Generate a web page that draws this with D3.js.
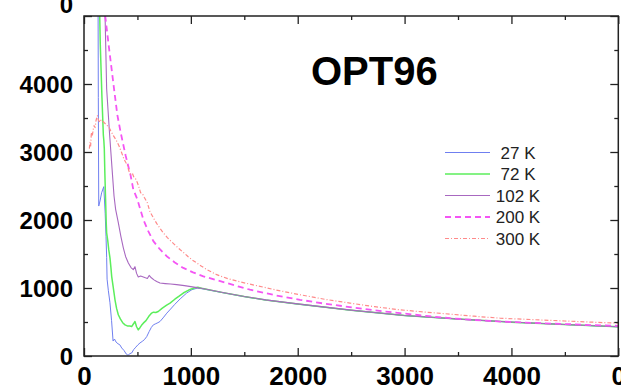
<!DOCTYPE html>
<html>
<head>
<meta charset="utf-8">
<script src="https://cdn.jsdelivr.net/npm/d3@7"></script>
<style>
  body { margin: 0; background: #fff; }
  text { font-family: "Liberation Sans", Arial, Helvetica, sans-serif; }
</style>
</head>
<body>
<svg></svg>
<script>
const [width, height] = [621, 390];
const margin = { left: 84, top: 16, right: 2.7, bottom: 34 };

// tick values and labels (the last "0"s belong to the neighbouring panels)
const xTicks = [0, 1000, 2000, 3000, 4000, 5000];
const xTickLabels = ["0", "1000", "2000", "3000", "4000", "0"];
const yTicks = [0, 1000, 2000, 3000, 4000, 5000];
const yTickLabels = ["0", "1000", "2000", "3000", "4000", "0"];
const minorTicks = [500, 1500, 2500, 3500, 4500];

const seriesNames = ["27 K", "72 K", "102 K", "200 K", "300 K"];
const seriesColors = ["#6f7ff0", "#5bee5b", "#a868c0", "#f455f4", "#ff8a8a"];

const k27 = [[131, 5600], [134, 3800], [138, 2205], [150, 2280], [165, 2400], [185, 2490], [198, 2100], [206, 1760], [212, 1450], [216, 1130], [228, 960], [243, 783], [258, 520], [272, 220], [285, 250], [300, 205], [318, 180], [335, 165], [353, 118], [375, 80], [395, 30], [412, 10], [430, 35], [446, 44], [465, 95], [485, 130], [505, 165], [524, 192], [545, 215], [565, 240], [587, 285], [610, 360], [630, 420], [649, 458], [672, 475], [692, 490], [711, 507], [740, 560], [775, 630], [810, 690], [850, 760], [900, 840], [961, 926], [1010, 975], [1060, 998], [1100, 990], [1300, 930], [1500, 872], [1700, 822], [2000, 762], [2500, 672], [3000, 594], [3500, 542], [4000, 497], [4500, 462], [5000, 428]];

const k72 = [[140, 5600], [152, 4600], [168, 3800], [181, 3250], [186, 3160], [190, 3050], [195, 2700], [202, 2300], [208, 1960], [212, 1812], [222, 1700], [232, 1560], [243, 1443], [252, 1300], [259, 1171], [270, 1050], [280, 940], [290, 827], [305, 700], [321, 606], [340, 545], [362, 490], [384, 458], [410, 440], [430, 440], [446, 433], [462, 470], [477, 507], [492, 430], [508, 384], [525, 420], [540, 455], [555, 483], [580, 520], [605, 580], [633, 631], [650, 645], [672, 640], [695, 655], [730, 700], [770, 745], [805, 778], [850, 835], [890, 880], [929, 926], [980, 970], [1030, 1000], [1065, 1012], [1100, 995], [1300, 932], [1500, 874], [1700, 824], [2000, 764], [2500, 673], [3000, 595], [3500, 543], [4000, 498], [4500, 463], [5000, 429]];

const k102 = [[190, 5400], [197, 5020], [212, 3930], [240, 3250], [265, 2700], [281, 2353], [296, 2157], [321, 1960], [345, 1760], [368, 1591], [390, 1460], [415, 1369], [440, 1300], [461, 1270], [477, 1314], [492, 1215], [508, 1162], [530, 1175], [555, 1162], [575, 1150], [593, 1140], [610, 1185], [630, 1150], [655, 1120], [680, 1095], [711, 1073], [760, 1065], [810, 1058], [867, 1049], [940, 1035], [1000, 1020], [1070, 1002], [1100, 997], [1300, 934], [1500, 876], [1700, 826], [2000, 766], [2500, 675], [3000, 596], [3500, 545], [4000, 499], [4500, 464], [5000, 430]];

const k200 = [[190, 5300], [197, 5020], [234, 4530], [281, 3930], [312, 3545], [343, 3289], [390, 2944], [437, 2650], [461, 2452], [499, 2304], [555, 2009], [600, 1840], [649, 1689], [710, 1570], [774, 1467], [850, 1375], [929, 1295], [1020, 1230], [1117, 1172], [1230, 1120], [1335, 1073], [1450, 1020], [1553, 975], [1800, 890], [2021, 827], [2250, 770], [2489, 719], [2720, 672], [2957, 630], [3200, 590], [3425, 556], [3650, 530], [3893, 507], [4200, 487], [4500, 470], [4750, 455], [5000, 443]];

const k300 = [[50, 3050], [56, 3141], [62, 3090], [69, 3289], [78, 3240], [86, 3330], [94, 3387], [104, 3360], [112, 3460], [125, 3535], [135, 3470], [150, 3437], [160, 3470], [171, 3461], [190, 3430], [218, 3387], [235, 3360], [250, 3313], [275, 3240], [295, 3190], [312, 3141], [330, 3080], [350, 3000], [374, 2895], [390, 2850], [405, 2810], [420, 2720], [437, 2674], [452, 2690], [468, 2625], [485, 2600], [499, 2551], [515, 2480], [530, 2400], [546, 2390], [565, 2330], [592, 2256], [618, 2120], [650, 2030], [680, 1950], [710, 1880], [742, 1812], [780, 1740], [820, 1680], [860, 1620], [898, 1566], [940, 1510], [975, 1460], [1015, 1410], [1055, 1369], [1100, 1320], [1150, 1270], [1200, 1230], [1242, 1196], [1350, 1135], [1460, 1090], [1600, 1040], [1800, 970], [2021, 901], [2250, 835], [2489, 778], [2720, 725], [2957, 679], [3200, 645], [3425, 616], [3650, 585], [3893, 556], [4200, 535], [4500, 515], [4750, 498], [5000, 483]];

const seriesData = [k27, k72, k102, k200, k300];
const seriesWidth = [1, 1.5, 1.1, 1.8, 1.2];
const seriesDash = [null, null, null, "6,4", "4,2,1,2"];

const svg = d3.select("svg").attr("width", width).attr("height", height);

const x = d3.scaleLinear().domain([0, 5000]).range([margin.left, width - margin.right]);
const y = d3.scaleLinear().domain([0, 5000]).range([height - margin.bottom, margin.top]);

svg.append("clipPath").attr("id", "plot")
  .append("rect")
  .attr("x", x(0)).attr("y", y(5000))
  .attr("width", x(5000) - x(0)).attr("height", y(0) - y(5000));

const line = d3.line().x(d => x(d[0])).y(d => y(d[1]));

const linesG = svg.append("g").attr("clip-path", "url(#plot)");
seriesData.forEach((data, i) => {
  linesG.append("path")
    .datum(data)
    .attr("d", line)
    .attr("fill", "none")
    .attr("stroke", seriesColors[i])
    .attr("stroke-width", seriesWidth[i])
    .attr("stroke-dasharray", seriesDash[i])
    .attr("stroke-linejoin", "round");
});

// frame
svg.append("rect")
  .attr("x", x(0)).attr("y", y(5000))
  .attr("width", x(5000) - x(0)).attr("height", y(0) - y(5000))
  .attr("fill", "none").attr("stroke", "#222").attr("stroke-width", 1.5);

function ticks(axis, transform) {
  const g = svg.append("g").attr("transform", transform).call(axis);
  g.select(".domain").remove();
  g.selectAll(".tick line").attr("stroke", "#222").attr("stroke-width", 1.3);
  return g;
}

// major + minor ticks on all four sides, pointing inwards
const bottom = ticks(d3.axisBottom(x).tickValues(xTicks).tickSize(-8)
  .tickFormat((d, i) => xTickLabels[i]), `translate(0,${y(0)})`);
bottom.selectAll("text")
  .attr("y", 29).attr("dy", 0)
  .attr("fill", "#000").style("font-size", "26px").style("font-weight", "bold");

const left = ticks(d3.axisLeft(y).tickValues(yTicks).tickSize(-8)
  .tickFormat((d, i) => yTickLabels[i]), `translate(${x(0)},0)`);
left.selectAll("text")
  .attr("x", -11).attr("dy", "0.36em")
  .attr("fill", "#000").style("font-size", "24px").style("font-weight", "bold");
left.selectAll(".tick").filter(d => d === 5000).select("text").attr("y", -12);

ticks(d3.axisTop(x).tickValues(xTicks).tickSize(-8).tickFormat(""), `translate(0,${y(5000)})`);
ticks(d3.axisRight(y).tickValues(yTicks).tickSize(-8).tickFormat(""), `translate(${x(5000)},0)`);

ticks(d3.axisBottom(x).tickValues(minorTicks).tickSize(-4).tickFormat(""), `translate(0,${y(0)})`);
ticks(d3.axisTop(x).tickValues(minorTicks).tickSize(-4).tickFormat(""), `translate(0,${y(5000)})`);
ticks(d3.axisLeft(y).tickValues(minorTicks).tickSize(-4).tickFormat(""), `translate(${x(0)},0)`);
ticks(d3.axisRight(y).tickValues(minorTicks).tickSize(-4).tickFormat(""), `translate(${x(5000)},0)`);

// title
svg.append("text")
  .attr("x", 311).attr("y", 85)
  .style("font-size", "40px").style("font-weight", "bold")
  .text("OPT96");

// legend
const legend = svg.append("g").attr("transform", "translate(445,152.5)");
seriesNames.forEach((name, i) => {
  const row = legend.append("g").attr("transform", `translate(0,${i * 21.5})`);
  row.append("line")
    .attr("x1", 0).attr("x2", 45)
    .attr("stroke", seriesColors[i])
    .attr("stroke-width", seriesWidth[i])
    .attr("stroke-dasharray", seriesDash[i]);
  row.append("text")
    .attr("x", 73).attr("y", 6)
    .attr("text-anchor", "middle")
    .attr("fill", "#222")
    .style("font-size", "17px")
    .text(name);
});
</script>
</body>
</html>
